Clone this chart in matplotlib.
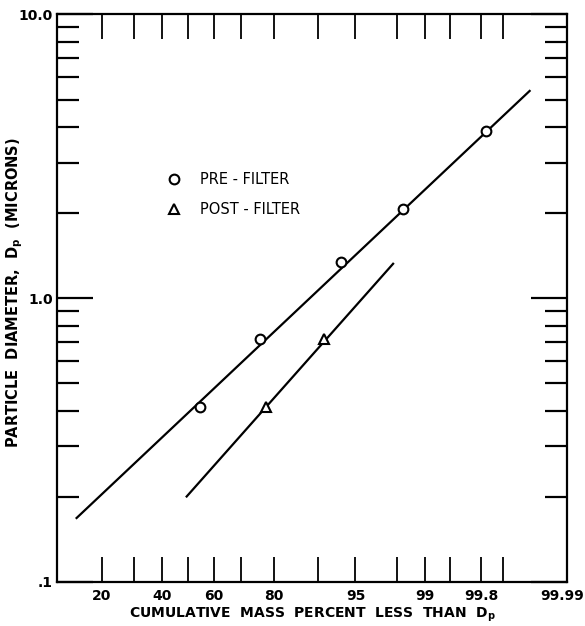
import numpy as np
import matplotlib
matplotlib.use("Agg")
import matplotlib.pyplot as plt
from statistics import NormalDist

## data
pre_pct = [55, 76, 93.4, 98.25, 99.83]
pre_d = [0.413, 0.717, 1.34, 2.06, 3.87]
post_pct = [77.8, 91]
post_d = [0.413, 0.717]

## fitted lines (end points)
pre_fit_pct = [13.8, 99.96]
pre_fit_d = [0.168, 5.36]
post_fit_pct = [49.6, 97.8]
post_fit_d = [0.2, 1.32]

xtick_vals = [20, 30, 40, 50, 60, 70, 80, 90, 95, 98, 99, 99.5, 99.8, 99.9]
xtick_text = ["20", "", "40", "", "60", "", "80", "", "95", "", "99", "", "99.8", ""]

_nd = NormalDist()
_fwd = np.vectorize(lambda v: _nd.inv_cdf(v / 100.0), otypes=[float])
_inv = np.vectorize(lambda v: _nd.cdf(v) * 100.0, otypes=[float])


def prob_fwd(p):
    p = np.clip(np.asarray(p, dtype=float), 1e-6, 100 - 1e-6)
    return _fwd(p)


def prob_inv(z):
    return _inv(np.asarray(z, dtype=float))


fig = plt.figure(figsize=(5.85, 6.26), dpi=100)
ax = fig.add_axes([0.0974, 0.0703, 0.8718, 0.9073])
ax.set_xscale("function", functions=(prob_fwd, prob_inv))
ax.set_yscale("log")
ax.set_xlim(10, 99.99)
ax.set_ylim(0.1, 10)

ax.plot(pre_fit_pct, pre_fit_d, color="k", lw=1.6, zorder=2)
ax.plot(post_fit_pct, post_fit_d, color="k", lw=1.6, zorder=2)
ax.plot(pre_pct, pre_d, "o", ms=7, mfc="white", mec="k", mew=1.5, zorder=3,
        linestyle="none", label="PRE - FILTER")
ax.plot(post_pct, post_d, "^", ms=7.5, mfc="white", mec="k", mew=1.5, zorder=3,
        linestyle="none", label="POST - FILTER")

for s in ax.spines.values():
    s.set_linewidth(1.6)

ax.set_xticks(xtick_vals)
ax.set_xticklabels(xtick_text)
ax.xaxis.set_minor_locator(matplotlib.ticker.NullLocator())
ax.tick_params(axis="x", which="major", direction="in", length=18, width=1.3,
               top=True, labelsize=10, pad=5)
for lab in ax.get_xticklabels():
    lab.set_fontweight("bold")
## extra label at the right end
fig.text(0.999, 1 - 596 / 626, "99.99", ha="right", va="center",
         fontsize=10, fontweight="bold")

ax.set_yticks([0.1, 1, 10])
ax.set_yticklabels([".1", "1.0", "10.0"])
ax.yaxis.set_minor_locator(matplotlib.ticker.LogLocator(base=10, subs=np.arange(2, 10)))
ax.yaxis.set_minor_formatter(matplotlib.ticker.NullFormatter())
ax.tick_params(axis="y", which="major", direction="in", length=26, width=1.6,
               right=True, labelsize=10, pad=3)
ax.tick_params(axis="y", which="minor", direction="in", length=16, width=1.6,
               right=True)
for lab in ax.get_yticklabels():
    lab.set_fontweight("bold")

ax.set_xlabel("CUMULATIVE  MASS  PERCENT  LESS  THAN  D$_\\mathbf{p}$",
              fontsize=10, fontweight="bold", labelpad=2)
fig.text(15 / 585, 1 - 293 / 626, "PARTICLE  DIAMETER,  D$_\\mathbf{p}$  (MICRONS)",
         rotation=90, ha="center", va="center", fontsize=10.5, fontweight="bold")

leg = ax.legend(loc="upper left", bbox_to_anchor=(0.2, 0.735), frameon=False,
                handlelength=1.0, handletextpad=1.3, labelspacing=1.05,
                borderpad=0, prop={"size": 10.5})

fig.savefig("out.png", dpi=100)
